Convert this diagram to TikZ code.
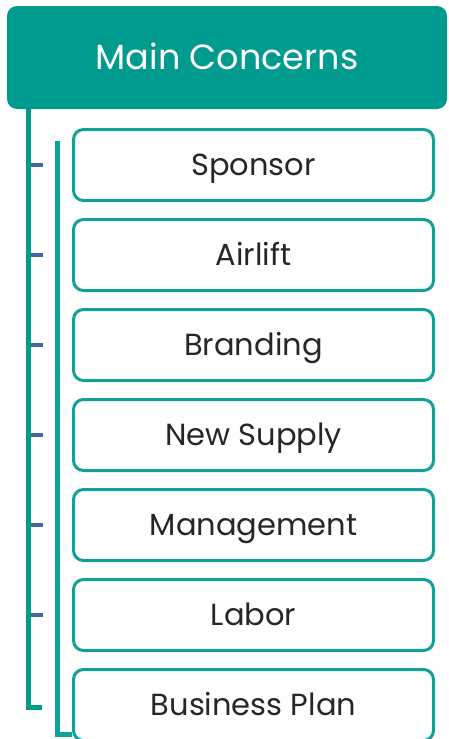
\documentclass[tikz,border=0pt]{standalone}
\usepackage{fontspec}
\setmainfont{Poppins}
\usepackage{xcolor}
\usetikzlibrary{positioning}
\definecolor{teal}{HTML}{009B8F}
\definecolor{tealline}{HTML}{12A196}
\definecolor{tickblue}{HTML}{3F6A9E}

\begin{document}
\begin{tikzpicture}[x=1pt, y=-1pt,
  head/.style={fill=teal, rounded corners=10pt, minimum width=440pt, minimum height=103pt,
    text=white, text height=24.5pt, text depth=0pt, font=\fontsize{35}{40}\selectfont},
  box/.style={draw=tealline, line width=3pt, rounded corners=10pt, minimum width=360pt,
    minimum height=71pt, text=black!85, text height=21.5pt, text depth=0pt,
    font=\fontsize{30.5}{34}\selectfont},
  trunk/.style={draw=teal, line width=5pt},
  tick/.style={draw=tickblue, line width=3.5pt},
  node distance=16pt
]
\useasboundingbox (0,0) rectangle (448,739);
\node[head] (head) at (227,57.5) {Main Concerns};
\node[box] (sp) at (253.5,165) {Sponsor};
\node[box, below=of sp] (al) {Airlift};
\node[box, below=of al] (br) {Branding};
\node[box, below=of br] (ns) {New Supply};
\node[box, below=of ns] (mg) {Management};
\node[box, below=of mg] (lb) {Labor};
\node[box, below=of lb] (bp) {Business Plan};

% outer trunk from the header, inner trunk to the last box
\coordinate (t1) at (28,109);
\coordinate (t1e) at (42,707);
\coordinate (t2) at (57,141);
\coordinate (t2e) at (72,734);
\draw[trunk] (t1) |- (t1e);
\draw[trunk, draw=tealline] (t2) |- (t2e);

\coordinate (tk) at (31,0);
\foreach \n in {sp,al,br,ns,mg,lb}
  \draw[tick] (tk |- \n.west) -- ++(12,0);
\end{tikzpicture}
\end{document}
